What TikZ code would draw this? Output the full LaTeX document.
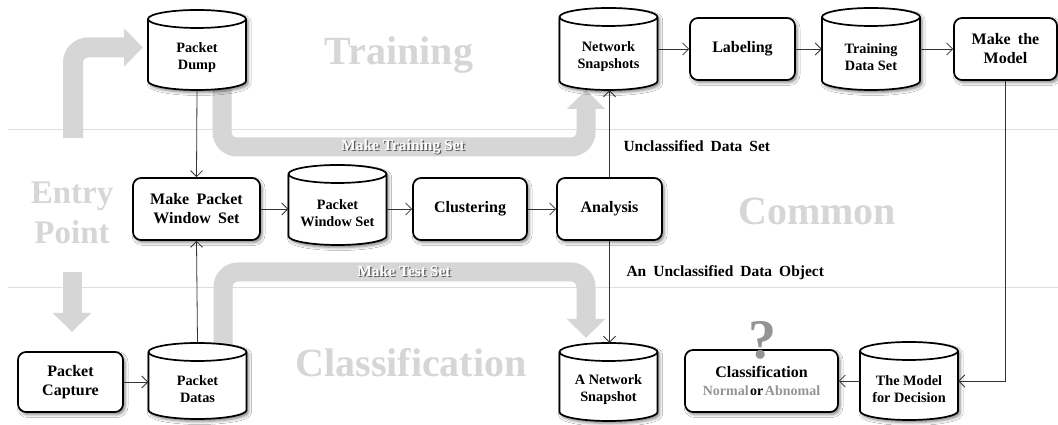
\documentclass[tikz,border=0pt]{standalone}
\usepackage{fontspec}
\setmainfont{Liberation Serif}
\newfontfamily\wideserif{Liberation Serif}[WordSpace=1.8]
\usetikzlibrary{arrows.meta,shadows.blur}

\tikzset{
  softshadow/.style={blur shadow={shadow xshift=2pt,shadow yshift=-2.5pt,shadow blur radius=3pt,shadow opacity=50}},
  procbox/.style={draw=black,line width=1.7pt,rounded corners=8pt,fill=white,softshadow,
    inner sep=0pt,align=center,font=\wideserif\bfseries\fontsize{16}{19}\selectfont},
  dbbody/.style={draw=black,line width=1.7pt,fill=white,softshadow},
  dbrim/.style={draw=black,line width=1.7pt},
  dbshape/.style={minimum width=98pt,inner sep=0pt},
  dbtext/.style={align=center,inner sep=0pt,font=\bfseries\fontsize{14.3}{17}\selectfont},
  flow/.style={draw=black!80,line width=0.8pt,-{Straight Barb[length=6pt,width=12pt]}},
  lane/.style={draw=black!13,line width=1pt},
  lanetitle/.style={text=black!16,font=\bfseries\fontsize{40}{40}\selectfont},
  bigarrow/.style={draw=black!16,line width=19pt,rounded corners=15pt,line cap=butt,
    -{Triangle[width=37pt,length=19pt]}},
  bandtext/.style={text=white,font=\bfseries\fontsize{15.5}{17}\selectfont},
  edgelabel/.style={anchor=base west,font=\wideserif\bfseries\fontsize{15.5}{18}\selectfont},
}

% database symbol: body outline, front rim, then the named node with its caption
\newcommand\dbnode[4]{%
  \begin{scope}[shift={#2}]
    \draw[dbbody] (-49,#3/2-9) -- (-49,-#3/2+9)
      arc[start angle=180,end angle=360,x radius=49,y radius=9]
      -- (49,#3/2-9)
      arc[start angle=0,end angle=180,x radius=49,y radius=9] -- cycle;
    \draw[dbrim] (-49,#3/2-9) arc[start angle=180,end angle=360,x radius=49,y radius=9];
  \end{scope}
  \node[dbshape,minimum height=#3pt,label={[dbtext,yshift=-8pt]center:#4}] (#1) at #2 {};
}

% white caption with a dark drop copy underneath
\newcommand\embossed[1]{\leavevmode\rlap{\kern1.2pt\raisebox{-1.2pt}{\textcolor{black!65}{#1}}}#1}

\begin{document}
\begin{tikzpicture}[x=1pt,y=1pt]
  \fill[white] (0,0) rectangle (1058,425);
  \useasboundingbox (0,0) rectangle (1058,425);

  % swim-lane separators
  \draw[lane] (8,295) -- (1058,295);
  \draw[lane] (8,137) -- (1058,137);

  % lane titles
  \node[lanetitle,anchor=base] (tTrain) at (399,360) {Training};
  \node[lanetitle,anchor=base] (tCommon) at (817,200) {Common};
  \node[lanetitle,anchor=base] (tClass) at (411,48) {Classification};
  \node[lanetitle,align=center,font=\bfseries\fontsize{33}{40}\selectfont] (tEntry) at (72,212) {Entry\\Point};

  % broad grey flow arrows
  \draw[bigarrow,line width=20pt] (73,287) -- (73,377.5) -- (143,377.5);
  \draw[bigarrow] (72,153) -- (72,93);
  \draw[bigarrow] (222,345) -- (222,278) -- (586,278) -- (586,335);
  \draw[bigarrow] (223,80) -- (223,153) -- (586,153) -- (586,87);
  \node[bandtext] (bTrain) at (403,278) {\embossed{Make Training Set}};
  \node[bandtext] (bTest) at (404,153) {\embossed{Make Test Set}};

  % training lane
  \dbnode{dump}{(197,375)}{80}{Packet\\Dump}
  \dbnode{netsnap}{(608.5,376)}{82}{Network\\Snapshots}
  \node[procbox,minimum width=105pt,minimum height=62pt] (label) at (742.5,376) {Labeling};
  \dbnode{tds}{(871,376)}{82}{Training\\Data Set}
  \node[procbox,minimum width=103pt,minimum height=62pt] (model) at (1005.5,376) {Make the\\Model};

  % common lane
  \node[procbox,minimum width=127pt,minimum height=62pt] (mpws) at (196.5,216) {Make Packet\\Window Set};
  \dbnode{pws}{(337.5,220)}{80}{Packet\\Window Set}
  \node[procbox,minimum width=114pt,minimum height=62pt] (clust) at (470,216) {Clustering};
  \node[procbox,minimum width=105pt,minimum height=62pt] (anal) at (609.5,216) {Analysis};

  % classification lane
  \node[procbox,minimum width=105pt,minimum height=60pt] (capture) at (70.5,43) {Packet\\Capture};
  \dbnode{datas}{(197.5,44)}{76}{Packet\\Datas}
  \dbnode{ans}{(608.5,43)}{78}{A Network\\Snapshot}
  \node[procbox,minimum width=153pt,minimum height=62pt] (classif) at (761.5,44)
    {Classification\\[-1pt]{\fontsize{14}{16}\selectfont\color{black!42}Normal\hspace{1.5pt}\color{black}or\hspace{1.5pt}\color{black!42}Abnomal}};
  \dbnode{mfd}{(909,44)}{78}{The Model\\for Decision}
  \node[text=black!42,font=\bfseries\fontsize{56}{56}\selectfont,anchor=base,inner sep=0pt] (qmark) at (762,66) {?};

  % connectors
  \draw[flow] (dump.south) -- (mpws.north);
  \draw[flow] (datas.north) -- (mpws.south);
  \draw[flow] (capture.east) -- (capture.east -| datas.west);
  \draw[flow] (mpws.east) -- (mpws.east -| pws.west);
  \draw[flow] (clust.west -| pws.east) -- (clust.west);
  \draw[flow] (clust.east) -- (anal.west);
  \draw[flow] (anal.north) -- (anal.north |- netsnap.south);
  \draw[flow] (anal.south) -- (anal.south |- ans.north);
  \draw[flow] (netsnap.east) -- (label.west);
  \draw[flow] (label.east) -- (tds.west);
  \draw[flow] (tds.east) -- (model.west);
  \draw[flow] (model.south) |- (mfd.east);
  \draw[flow] (mfd.west) -- (classif.east);

  % connector captions
  \node[edgelabel] (lblSet) at (620,273) {Unclassified Data Set};
  \node[edgelabel] (lblObj) at (623,148) {An Unclassified Data Object};
\end{tikzpicture}
\end{document}
